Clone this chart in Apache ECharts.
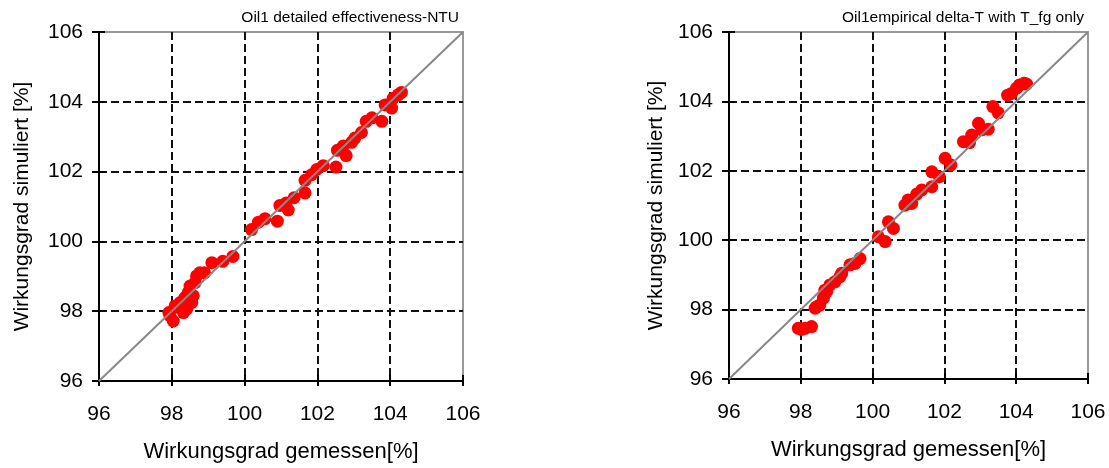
<!DOCTYPE html>
<html>
<head>
<meta charset="utf-8">
<script src="https://cdn.jsdelivr.net/npm/echarts@6/dist/echarts.min.js"></script>
<style>
html,body{margin:0;padding:0;background:#fff;}
#chart{width:1109px;height:468px;}
</style>
</head>
<body>
<div id="chart"></div>
<script>
// ---- data ----
const titles = ["Oil1 detailed effectiveness-NTU", "Oil1empirical delta-T with T_fg only"];
const xAxisName = "Wirkungsgrad gemessen[%]";
const yAxisName = "Wirkungsgrad simuliert [%]";
const axisMin = 96, axisMax = 106, axisStep = 2;
const diagonal = [[96, 96], [106, 106]];

const leftMeasured = [97.92, 97.95, 98.04, 98.09, 98.23, 98.32, 98.41, 98.36, 98.55, 98.45, 98.59, 98.50, 98.64, 98.68, 98.77, 98.90, 99.10, 99.40, 99.68, 98.20, 98.50,
  100.19, 100.38, 100.56, 100.90, 100.97, 101.20, 101.14, 101.36, 101.66, 101.66, 101.84, 101.98, 102.16, 102.51, 102.55, 102.71, 102.79, 102.94, 103.03, 103.21, 103.34, 103.50, 103.77, 103.86, 104.04, 104.08, 104.22, 104.31];
const leftSimulated = [97.96, 97.87, 97.72, 98.15, 98.25, 97.96, 98.06, 98.39, 98.25, 98.53, 98.44, 98.72, 98.82, 99.01, 99.10, 99.10, 99.39, 99.43, 99.57, 98.10, 98.35,
  100.34, 100.55, 100.65, 100.58, 101.03, 100.90, 101.10, 101.25, 101.39, 101.75, 101.91, 102.06, 102.17, 102.13, 102.61, 102.73, 102.46, 102.84, 102.96, 103.12, 103.44, 103.54, 103.44, 103.91, 103.82, 104.10, 104.20, 104.27];

const rightMeasured = [97.93, 98.02, 98.12, 98.30, 98.40, 98.44, 98.53, 98.63, 98.67, 98.72, 98.81, 98.95, 99.09, 99.14, 99.37, 99.51, 99.65,
  100.16, 100.35, 100.44, 100.58, 100.90, 100.99, 101.09, 101.23, 101.37, 101.65, 101.65, 101.86, 102.02, 102.18, 102.53, 102.70, 102.76, 102.95, 103.04, 103.22, 103.35, 103.50, 103.76, 103.87, 104.01, 104.09, 104.22, 104.29];
const rightSimulated = [97.46, 97.43, 97.46, 97.51, 98.04, 98.08, 98.13, 98.33, 98.56, 98.52, 98.71, 98.80, 98.95, 99.05, 99.29, 99.33, 99.47,
  100.10, 99.96, 100.53, 100.34, 101.01, 101.16, 101.06, 101.33, 101.45, 101.54, 101.97, 101.83, 102.36, 102.17, 102.84, 102.81, 103.03, 103.37, 103.18, 103.20, 103.85, 103.67, 104.18, 104.23, 104.38, 104.47, 104.52, 104.50];

function pairs(xs, ys){ return xs.map((x,i)=>[x, ys[i]]); }

const FONT = "'Liberation Sans', Arial, sans-serif";
const grids = [
  {left: 99, top: 32, width: 364, height: 350},
  {left: 729, top: 32, width: 359, height: 347}
];

const xAxes = [], yAxes = [], series = [];
grids.forEach((g, gi) => {
  xAxes.push({
    type: 'value', gridIndex: gi, min: axisMin, max: axisMax, interval: axisStep,
    name: xAxisName, nameLocation: 'middle', nameGap: 60,
    nameTextStyle: {fontFamily: FONT, fontSize: 22, color: '#000'},
    axisLine: {show: true, onZero: false, lineStyle: {color: '#000', width: 2}},
    axisTick: {show: true, inside: false, length: 5, lineStyle: {color: '#000', width: 2}},
    axisLabel: {fontFamily: FONT, fontSize: 21, color: '#000', margin: 23},
    splitLine: {show: true, showMinLine: false, showMaxLine: false, lineStyle: {color: '#111', width: 2, type: [8, 4]}}
  });
  xAxes.push({
    type: 'value', gridIndex: gi, min: axisMin, max: axisMax, interval: axisStep, position: 'bottom',
    axisLine: {show: false, onZero: false},
    axisTick: {show: true, inside: true, length: 6, lineStyle: {color: '#000', width: 2}},
    axisLabel: {show: false}, splitLine: {show: false}
  });
  yAxes.push({
    type: 'value', gridIndex: gi, min: axisMin, max: axisMax, interval: axisStep,
    name: yAxisName, nameLocation: 'middle', nameGap: gi === 0 ? 66 : 62, nameRotate: 90,
    nameTextStyle: {fontFamily: FONT, fontSize: 21, color: '#000'},
    axisLine: {show: true, onZero: false, lineStyle: {color: '#000', width: 2}},
    axisTick: {show: true, inside: false, length: 7, lineStyle: {color: '#000', width: 2}},
    axisLabel: {fontFamily: FONT, fontSize: 21, color: '#000', margin: 16},
    splitLine: {show: true, showMinLine: false, showMaxLine: false, lineStyle: {color: '#111', width: 2, type: [8, 4]}}
  });
  yAxes.push({
    type: 'value', gridIndex: gi, min: axisMin, max: axisMax, interval: axisStep, position: 'left',
    axisLine: {show: false, onZero: false},
    axisTick: {show: true, inside: true, length: 6, lineStyle: {color: '#000', width: 2}},
    axisLabel: {show: false}, splitLine: {show: false}
  });
});

const dataSets = [pairs(leftMeasured, leftSimulated), pairs(rightMeasured, rightSimulated)];
dataSets.forEach((d, gi) => {
  series.push({
    type: 'scatter', xAxisIndex: gi*2, yAxisIndex: gi*2, data: d,
    symbol: 'circle', symbolSize: 13, itemStyle: {color: '#ff0000', opacity: 1}, z: 3,
    emphasis: {disabled: true}
  });
  series.push({
    type: 'line', xAxisIndex: gi*2, yAxisIndex: gi*2, data: diagonal,
    symbol: 'none', lineStyle: {color: '#888', width: 2}, z: 4, silent: true
  });
});

const chart = echarts.init(document.getElementById('chart'), null, {renderer: 'canvas'});
chart.setOption({
  animation: false,
  backgroundColor: '#fff',
  title: [
    {text: titles[0], right: 1109 - 464, top: 5, textStyle: {fontFamily: FONT, fontSize: 15.5, fontWeight: 'normal', color: '#000'}},
    {text: titles[1], right: 1109 - 1089, top: 5, textStyle: {fontFamily: FONT, fontSize: 15.5, fontWeight: 'normal', color: '#000'}}
  ],
  grid: grids.map(g => Object.assign({show: true, borderColor: '#999', borderWidth: 2, backgroundColor: 'transparent'}, g)),
  xAxis: xAxes,
  yAxis: yAxes,
  series: series
});
</script>
</body>
</html>
